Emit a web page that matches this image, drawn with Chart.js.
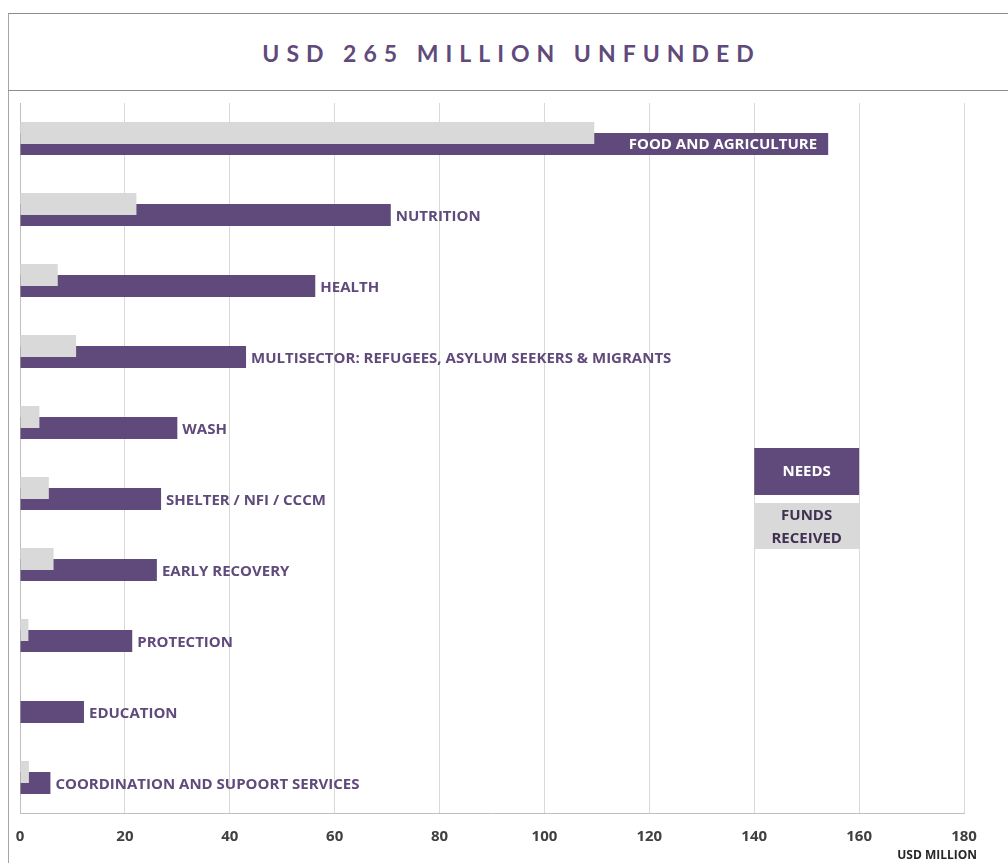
<!DOCTYPE html>
<html>
<head>
<meta charset="utf-8">
<script src="https://cdn.jsdelivr.net/npm/chart.js@4.4.1/dist/chart.umd.min.js"></script>
<style>
    body { margin: 0; background: #fff; }
    #wrap { position: relative; width: 1008px; height: 863px; overflow: hidden; }
    #frame { position: absolute; left: 8px; top: 13px; width: 1000px; height: 850px; border-left: 1px solid #a6a6a6; border-top: 1px solid #8c8c8c; box-sizing: border-box; }
    #title { position: absolute; left: 8px; top: 13px; width: 1000px; height: 78px; border-bottom: 1px solid #8c8c8c; box-sizing: border-box;
        display: flex; align-items: center; justify-content: center; padding-left: 7px; padding-top: 2px;
        font-family: Lato, "Open Sans", sans-serif; font-weight: bold; font-size: 23px; letter-spacing: 7px; color: #604a7b; }
    #chartBox { position: absolute; left: 0; top: 0; width: 1008px; height: 863px; }
</style>
</head>
<body>
<div id="wrap">
    <div id="frame"></div>
    <div id="title">USD 265 MILLION UNFUNDED</div>
    <div id="chartBox"><canvas id="sectorChart"></canvas></div>
</div>
<script>
// sectors, top to bottom
var sectors = ['FOOD AND AGRICULTURE', 'NUTRITION', 'HEALTH', 'MULTISECTOR: REFUGEES, ASYLUM SEEKERS & MIGRANTS',
    'WASH', 'SHELTER / NFI / CCCM', 'EARLY RECOVERY', 'PROTECTION', 'EDUCATION', 'COORDINATION AND SUPOORT SERVICES'];
// USD million
var needs = [154.1, 70.7, 56.3, 43.1, 30.0, 26.9, 26.1, 21.4, 12.2, 5.8];
var fundsReceived = [109.5, 22.2, 7.2, 10.7, 3.7, 5.5, 6.4, 1.6, 0, 1.7];
var axisTicks = [0, 20, 40, 60, 80, 100, 120, 140, 160, 180];
var seriesNames = ['FUNDS\nRECEIVED', 'NEEDS'];
var axisUnit = 'USD MILLION';

var purple = '#604a7b';
var grey = '#d9d9d9';
var labelFont = 'bold 15px "Open Sans", sans-serif';

// sector names next to the needs bars + the boxed legend
var sectorLabels = {
    id: 'sectorLabels',
    afterDatasetsDraw: function (chart) {
        var ctx = chart.ctx;
        var area = chart.chartArea;
        var meta = chart.getDatasetMeta(1);
        ctx.save();
        ctx.font = labelFont;
        ctx.textBaseline = 'middle';
        meta.data.forEach(function (bar, i) {
            var text = sectors[i];
            var w = ctx.measureText(text).width;
            if (bar.x + 5 + w > area.right) {
                ctx.fillStyle = '#fff';
                ctx.textAlign = 'right';
                ctx.fillText(text, bar.x - 11, bar.y + 1);
            } else {
                ctx.fillStyle = purple;
                ctx.textAlign = 'left';
                ctx.fillText(text, bar.x + 5, bar.y + 2);
            }
        });

        // legend boxes
        var x0 = chart.scales.x.getPixelForValue(140);
        var x1 = chart.scales.x.getPixelForValue(160);
        var cx = (x0 + x1) / 2;
        ctx.textAlign = 'center';
        ctx.font = 'bold 15px "Open Sans", sans-serif';
        ctx.fillStyle = purple;
        ctx.fillRect(x0, 448, x1 - x0, 47);
        ctx.fillStyle = '#fff';
        ctx.fillText(seriesNames[1], cx, 472);
        ctx.fillStyle = grey;
        ctx.fillRect(x0, 503, x1 - x0, 46);
        ctx.fillStyle = '#403152';
        var lines = seriesNames[0].split('\n');
        ctx.fillText(lines[0], cx, 516);
        ctx.fillText(lines[1], cx, 539);

        // axis unit
        ctx.font = 'bold 12px "Open Sans", sans-serif';
        ctx.fillStyle = '#262626';
        ctx.textAlign = 'right';
        ctx.fillText(axisUnit, area.right + 13, 856);
        ctx.restore();
    }
};

var ctxSectors = document.getElementById('sectorChart');
new Chart(ctxSectors, {
    type: 'bar',
    data: {
        labels: sectors,
        datasets: [{
            label: 'FUNDS RECEIVED',
            data: fundsReceived,
            backgroundColor: grey,
            borderWidth: 0
        }, {
            label: 'NEEDS',
            data: needs,
            backgroundColor: purple,
            borderWidth: 0
        }]
    },
    options: {
        responsive: true, maintainAspectRatio: false, indexAxis: 'y',
        animation: false, devicePixelRatio: 1,
        categoryPercentage: 0.31, barPercentage: 2,
        layout: { padding: { left: 20, right: 44, top: 103, bottom: 2 } },
        scales: {
            x: {
                min: 0, max: 180,
                afterBuildTicks: function (scale) {
                    scale.ticks = axisTicks.map(function (v) { return { value: v }; });
                },
                grid: {
                    color: function (c) { return c.tick && c.tick.value === 0 ? '#bfbfbf' : '#d9d9d9'; },
                    drawTicks: false
                },
                border: { color: '#bfbfbf' },
                ticks: {
                    padding: 15,
                    color: '#404040',
                    font: { family: '"Open Sans", sans-serif', size: 15, weight: 'bold' }
                }
            },
            y: { display: false }
        },
        plugins: {
            legend: { display: false },
            title: { display: false },
            tooltip: { enabled: false }
        }
    },
    plugins: [sectorLabels]
});
</script>
</body>
</html>
